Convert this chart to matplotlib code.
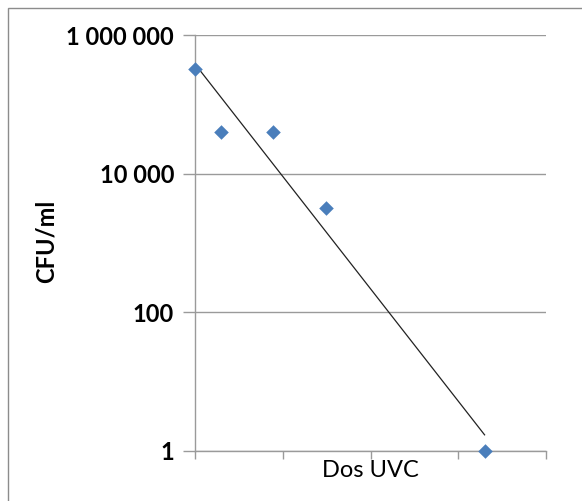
import numpy as np
import matplotlib
matplotlib.use("Agg")
import matplotlib.pyplot as plt
from matplotlib.ticker import FixedLocator, FuncFormatter
from matplotlib.patches import Rectangle

# data
dose = [0.0, 0.3, 0.89, 1.49, 3.3]
cfu = [320000, 40000, 40000, 3200, 1]
y_ticks = [1, 100, 10000, 1000000]
x_ticks = [0, 1, 2, 3, 4]

plt.rcParams['font.family'] = ['Lato', 'DejaVu Sans']

fig = plt.figure(figsize=(5.82, 5.01), dpi=100)
ax = fig.add_axes([195/582, 1-451/501, (546-195)/582, (451-35)/501])

ax.set_yscale('log')
ax.set_ylim(1, 1e6)
ax.set_xlim(0, 4)

# exponential trendline (least squares on log10)
coef = np.polyfit(dose, np.log10(cfu), 1)
xt = np.array([min(dose), max(dose)])
ax.plot(xt, 10**np.polyval(coef, xt), color='#222222', lw=0.9, zorder=2)

ax.scatter(dose, cfu, marker='D', s=55, color='#4a7ebb', zorder=3, clip_on=False, linewidths=0)

ax.yaxis.set_major_locator(FixedLocator(y_ticks))
ax.yaxis.set_minor_locator(FixedLocator([]))
ax.yaxis.set_major_formatter(FuncFormatter(lambda v, p: f"{int(round(v)):,}".replace(",", " ")))
ax.xaxis.set_major_locator(FixedLocator(x_ticks))
ax.set_xticklabels([])

ax.grid(axis='y', color='#9a9a9a', lw=1)
ax.set_axisbelow(True)
for s in ['top', 'right']:
    ax.spines[s].set_visible(False)
for s in ['left', 'bottom']:
    ax.spines[s].set_color('#9a9a9a')
    ax.spines[s].set_linewidth(1)

ax.tick_params(axis='y', length=9, color='#9a9a9a', width=1, labelsize=17, pad=6)
ax.tick_params(axis='x', length=6, color='#9a9a9a', width=1)
for t in ax.get_yticklabels():
    t.set_fontweight('bold')

ax.set_xlabel('Dos UVC', fontsize=17, labelpad=-3)
ax.set_ylabel('CFU/ml', fontsize=17, fontweight='bold')
ax.yaxis.set_label_coords((58-195)/(546-195), (451-241)/(451-35))

fig.patches.append(Rectangle((8/582, -0.1), 1.2, 1-8/501+0.1, transform=fig.transFigure,
                             fill=False, edgecolor='#8c8c8c', lw=1))

fig.savefig('out.png', dpi=100)
